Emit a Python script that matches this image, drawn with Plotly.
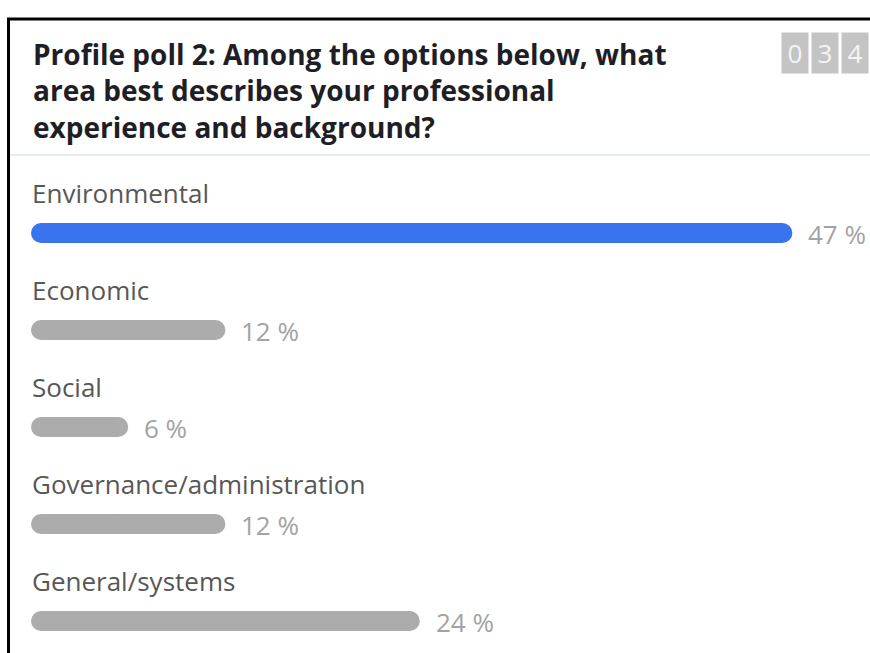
import plotly.graph_objects as go

# ---- data ----
categories = ["Environmental", "Economic", "Social", "Governance/administration", "General/systems"]
percents = [47, 12, 6, 12, 24]
bar_colors = ["#3a73ee", "#acacac", "#acacac", "#acacac", "#acacac"]
title_text = ("Profile poll 2: Among the options below, what<br>"
              "area best describes your professional<br>"
              "experience and background?")
responses_digits = ["0", "3", "4"]

W, H = 870, 653
ML, MR, MT, MB = 31, 29, 160, 0
PW, PH = W - ML - MR, H - MT - MB
ROW = 97.0          # pixel pitch between rows
FIRST = 233.0       # pixel centre of first row
BAR_PX = 20.0       # bar thickness in pixels
y_top = -(FIRST - MT) / ROW
y_bottom = y_top + PH / ROW


def px_x(px):
    return (px - ML) / PW


def px_y(py):
    return (H - MB - py) / PH


FONT = "Open Sans"
bw = BAR_PX / ROW

fig = go.Figure()
# left part of each bar (rounded at the zero end)
fig.add_trace(go.Bar(
    y=categories, x=[-0.6 * v for v in percents], base=[0.6 * v for v in percents],
    orientation="h", marker=dict(color=bar_colors, cornerradius=10, line=dict(width=0)),
    width=bw, hoverinfo="skip", showlegend=False))
# right part of each bar (rounded at the value end)
fig.add_trace(go.Bar(
    y=categories, x=[0.6 * v for v in percents], base=[0.4 * v for v in percents],
    orientation="h", marker=dict(color=bar_colors, cornerradius=10, line=dict(width=0)),
    width=bw, hoverinfo="skip", showlegend=False))

annotations = []
for c, v in zip(categories, percents):
    annotations.append(dict(x=0, y=c, xref="x", yref="y", text=c, showarrow=False,
                            xanchor="left", yanchor="middle", xshift=-1, yshift=40,
                            font=dict(family=FONT, size=26, color="#575757")))
    annotations.append(dict(x=v, y=c, xref="x", yref="y", text=f"{v} %", showarrow=False,
                            xanchor="left", yanchor="middle", xshift=14, yshift=-1,
                            font=dict(family=FONT, size=26, color="#a3a3a3")))

annotations.append(dict(x=px_x(31), y=px_y(33), xref="paper", yref="paper", text=f"<b>{title_text}</b>",
                        showarrow=False, xanchor="left", yanchor="top", align="left",
                        font=dict(family=FONT, size=28, color="#1e1e26")))

for i, d in enumerate(responses_digits):
    annotations.append(dict(x=px_x(795 + 30 * i), y=px_y(53), xref="paper", yref="paper", text=d,
                            showarrow=False, xanchor="center", yanchor="middle",
                            width=24, height=38, borderpad=1, bgcolor="#c4c4c4",
                            font=dict(family=FONT, size=26, color="#f4f4f4")))

shapes = [
    dict(type="line", xref="paper", yref="paper", x0=px_x(7), x1=px_x(872), y0=px_y(19), y1=px_y(19),
         line=dict(color="#000000", width=3)),
    dict(type="line", xref="paper", yref="paper", x0=px_x(8.5), x1=px_x(8.5), y0=px_y(18), y1=px_y(660),
         line=dict(color="#000000", width=3)),
    dict(type="line", xref="paper", yref="paper", x0=px_x(10), x1=px_x(872), y0=px_y(155), y1=px_y(155),
         line=dict(color="#e6ecf5", width=2)),
]

fig.update_layout(
    width=W, height=H,
    margin=dict(l=ML, r=MR, t=MT, b=MB, pad=0),
    paper_bgcolor="white", plot_bgcolor="white",
    barmode="overlay",
    xaxis=dict(range=[0, 50], visible=False, fixedrange=True),
    yaxis=dict(type="category", range=[y_bottom, y_top], visible=False, fixedrange=True),
    annotations=annotations, shapes=shapes,
    font=dict(family=FONT),
)

fig.write_html("out.html", config={"displayModeBar": False})
